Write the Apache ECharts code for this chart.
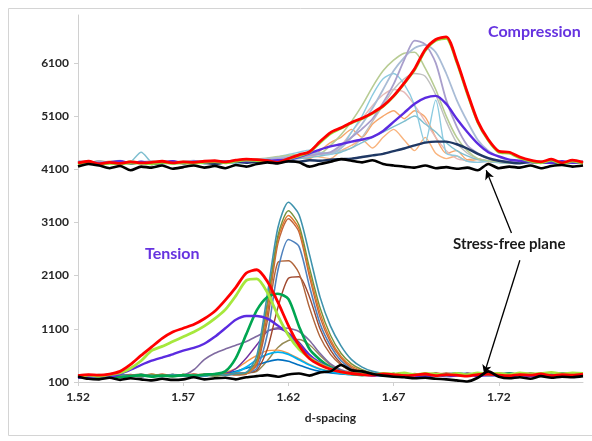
<!DOCTYPE html>
<html><head><meta charset="utf-8">
<script src="https://cdn.jsdelivr.net/npm/echarts@6/dist/echarts.min.js"></script>
<style>html,body{margin:0;padding:0;background:#fff}#c{width:592px;height:441px}</style>
</head><body><div id="c"></div>
<script>
// d-spacing sample positions (1.52 .. 1.76, step 0.005)
const xs = [1.520,1.525,1.530,1.535,1.540,1.545,1.550,1.555,1.560,1.565,1.570,1.575,1.580,1.585,1.590,1.595,1.600,1.605,1.610,1.615,1.620,1.625,1.630,1.635,1.640,1.645,1.650,1.655,1.660,1.665,1.670,1.675,1.680,1.685,1.690,1.695,1.700,1.705,1.710,1.715,1.720,1.725,1.730,1.735,1.740,1.745,1.750,1.755,1.760];
const xTicks = [1.52,1.57,1.62,1.67,1.72];
const yTicks = [100,1100,2100,3100,4100,5100,6100];

// ---- Tension (lower) profiles ----
const lowRed    = [220,240,230,250,300,430,600,760,920,1040, 1110,1180,1290,1430,1640,1880,2150,2210,1990,1600, 1160,790,540,420,340,290,260,240,230,250, 240,220,230,250,220,240,230,210,240,250, 230,220,240,230,250,220,240,230,250];
const lowLime   = [200,230,210,240,270,360,500,690,770,860, 950,1040,1150,1290,1460,1720,2010,2040,1780,1350, 980,720,560,440,350,290,260,250,240,260, 250,270,240,260,250,230,260,240,270,250, 260,240,270,250,260,280,250,270,260];
const lowViolet = [180,200,210,190,250,330,420,500,560,620, 690,740,820,950,1110,1270,1340,1340,1290,1160, 1010,800,600,460,360,300,260,240,220,230, 210,230,220,200,230,210,220,240,210,230, 220,200,230,210,220,240,210,230,220];
const lowGreen  = [190,210,200,220,190,210,230,200,220,210, 230,220,240,250,300,550,1000,1450,1700,1760, 1660,1150,720,520,380,300,250,230,240,220, 250,230,240,220,250,230,260,240,250,230, 240,260,230,250,240,220,250,230,240];
const lowTeal   = [210,230,200,220,240,210,230,220,200,240, 220,230,210,250,230,260,280,600,1750,3000, 3480,3250,2500,1700,1150,780,520,380,300,260, 240,250,230,260,240,250,270,240,260,250, 240,270,250,260,240,250,270,260,250];
const lowOlive  = [200,220,240,210,230,220,200,240,230,210, 240,220,230,210,240,250,270,520,1600,2850, 3320,3050,2250,1500,980,640,440,330,270,250, 230,260,240,250,230,260,240,250,270,240, 260,240,250,230,260,240,270,250,260];
const lowOrange = [220,200,230,240,210,230,220,250,210,230, 220,240,230,250,220,260,260,480,1500,2780, 3230,2980,2150,1400,900,580,400,310,260,240, 250,230,260,240,270,250,240,260,250,270, 240,260,250,240,270,250,260,240,270];
const lowRust   = [230,210,220,200,240,220,230,210,240,220, 230,250,220,240,250,230,250,440,1380,2700, 3170,2920,2080,1320,850,550,370,290,250,260, 240,250,230,260,240,270,250,230,260,240, 250,270,240,260,250,230,260,250,240];
const lowSteel  = [210,230,220,240,200,230,210,240,220,230, 210,240,230,220,250,240,260,360,1000,2200, 2780,2650,1900,1200,780,500,350,280,250,240, 260,240,250,230,260,240,250,270,240,260, 250,230,260,240,250,270,240,260,250];
const lowBrown  = [200,220,210,230,220,200,230,210,220,240, 230,220,240,230,250,260,280,420,1250,2350, 2380,2150,1500,950,620,420,300,260,240,250, 230,250,240,260,230,250,240,260,250,230, 260,240,250,270,240,260,250,240,260];
const lowMaroon = [220,210,230,200,220,240,210,230,220,200, 240,220,230,250,240,260,270,320,720,1500, 2050,2080,1700,1100,700,450,320,270,250,240, 260,230,250,240,260,250,230,260,240,250, 270,240,260,250,240,260,270,250,240];
const lowPlum   = [210,200,220,230,210,220,200,230,240,220, 230,330,520,640,720,790,860,960,1060,1120, 1110,1050,880,640,440,330,280,250,240,250, 230,240,250,230,260,240,250,230,260,240, 250,240,230,260,250,240,260,230,250];
const lowPurple = [190,210,200,220,210,230,200,220,210,230, 220,210,240,230,260,350,550,800,1050,1100, 1020,850,620,450,340,280,250,230,240,220, 250,230,240,260,230,250,240,220,250,240, 230,250,240,220,250,230,240,260,230];
const lowCyan   = [220,200,230,210,240,220,200,230,210,240, 220,230,210,250,240,280,380,520,620,660, 620,520,420,340,290,260,240,250,230,260, 240,250,230,240,260,230,250,240,260,230, 250,240,260,230,250,240,230,260,240];
const lowBlue   = [200,220,210,230,200,220,240,210,230,220, 210,230,220,240,260,300,360,420,480,520, 490,420,350,300,270,250,240,230,250,240, 230,250,240,230,250,240,260,230,250,240, 260,230,250,240,230,250,260,240,250];
const lowTan    = [230,220,210,240,220,230,250,210,230,240, 220,240,230,250,240,260,270,300,500,750, 880,900,800,600,420,320,270,250,240,260, 230,250,240,260,230,250,240,260,240,230, 250,240,260,230,250,240,260,250,240];
const lowPeach  = [210,230,220,200,240,220,230,210,250,220, 240,230,250,240,280,350,480,600,690,700, 640,540,430,350,300,260,250,240,260,230, 250,240,230,260,250,240,230,250,260,240, 230,250,240,260,230,250,240,230,250];
const lowBlack  = [200,160,150,180,140,170,150,130,160,140, 150,190,150,170,180,150,190,210,230,200, 240,260,220,280,300,420,320,300,250,220, 200,190,170,180,160,150,130,110,180,300, 200,170,190,160,210,180,200,190,210];

// ---- Compression (upper) profiles ----
const upRed      = [4220,4250,4200,4230,4210,4240,4220,4230,4250,4220, 4240,4230,4250,4260,4240,4270,4290,4280,4260,4230, 4300,4370,4430,4620,4790,4880,4980,5060,5160,5290, 5480,5720,5990,6350,6540,6590,6140,5550,5000,4660, 4440,4420,4330,4270,4240,4290,4220,4270,4230];
const upLime     = [4200,4230,4190,4210,4200,4220,4210,4200,4230,4210, 4220,4210,4230,4240,4220,4250,4270,4260,4250,4220, 4290,4350,4420,4600,4770,4870,4970,5050,5150,5280, 5470,5710,5970,6330,6520,6560,6110,5520,4980,4640, 4420,4400,4310,4250,4220,4270,4200,4250,4210];
const upLav      = [4230,4210,4250,4220,4240,4200,4230,4250,4220,4240, 4210,4230,4250,4220,4240,4260,4230,4250,4270,4290, 4310,4340,4360,4390,4420,4550,4700,4860,5050,5350, 5700,6150,6520,6450,6100,5400,4900,4550,4400,4300, 4260,4240,4220,4250,4230,4210,4240,4220,4230];
const upBlueGray = [4250,4230,4210,4240,4260,4220,4240,4230,4250,4210, 4240,4260,4230,4250,4220,4240,4260,4280,4300,4320, 4330,4350,4380,4410,4400,4500,4700,4950,5250,5600, 5950,6200,6380,6440,6300,5900,5400,5000,4650,4450, 4330,4270,4240,4220,4250,4230,4240,4220,4250];
const upSage     = [4240,4220,4260,4230,4210,4250,4230,4240,4260,4220, 4250,4230,4240,4260,4230,4250,4270,4290,4310,4340, 4360,4380,4410,4400,4550,4750,5000,5300,5650,5950, 6150,6280,6300,6000,5600,5100,4700,4450,4300,4260, 4240,4220,4250,4230,4240,4260,4220,4240,4230];
const upSky      = [4260,4230,4250,4210,4240,4220,4250,4230,4210,4240, 4230,4250,4220,4240,4260,4230,4250,4280,4300,4330, 4380,4420,4460,4400,4380,4500,4800,5100,5500,5800, 5900,5700,5300,4600,5400,4400,4350,4250,4230,4250, 4220,4240,4210,4230,4250,4220,4240,4230,4210];
const upPink     = [4210,4240,4220,4250,4230,4210,4240,4220,4250,4230, 4220,4240,4260,4230,4250,4240,4260,4270,4300,4320, 4340,4370,4350,4380,4400,4550,4800,5050,5300,5500, 5600,5550,5300,5000,4700,4450,4300,4260,4230,4250, 4230,4210,4240,4220,4250,4230,4210,4240,4220];
const upOrange   = [4230,4250,4220,4240,4210,4260,4230,4220,4240,4250, 4230,4210,4240,4230,4260,4240,4250,4270,4260,4290, 4280,4320,4300,4450,4600,4700,4850,4700,4950,5100, 5200,5050,5200,5080,4700,4400,4450,4280,4300,4250, 4260,4230,4250,4220,4240,4230,4250,4220,4240];
const upApricot  = [4240,4220,4230,4250,4220,4240,4210,4250,4230,4220, 4240,4250,4230,4210,4240,4260,4240,4260,4280,4300, 4320,4300,4350,4330,4300,4450,4550,4650,4500,4700, 4850,4650,4450,4700,4400,4300,4350,4250,4280,4240, 4230,4250,4220,4240,4230,4250,4220,4240,4230];
const upGray     = [4220,4240,4210,4230,4250,4220,4240,4230,4210,4240, 4250,4230,4220,4250,4240,4220,4250,4270,4290,4280, 4310,4330,4360,4390,4420,4450,4500,4700,5000,5300, 5600,5800,5900,5850,5500,5000,4600,4400,4300,4260, 4240,4250,4230,4240,4220,4250,4230,4240,4220];
const upTeal     = [4200,4220,4190,4230,4210,4240,4420,4230,4200,4220, 4210,4230,4200,4240,4220,4210,4230,4250,4240,4260, 4280,4300,4320,4350,4380,4420,4500,4600,4700,4800, 4900,5000,5100,4950,4800,4600,4450,4350,4280,4250, 4230,4210,4240,4220,4250,4230,4210,4240,4220];
const upViolet   = [4220,4240,4210,4230,4250,4220,4240,4210,4230,4250, 4220,4240,4230,4250,4240,4260,4250,4270,4260,4270, 4280,4330,4400,4470,4530,4570,4620,4660,4710,4820, 4990,5160,5330,5440,5480,5330,5050,4800,4580,4420, 4340,4280,4260,4240,4230,4220,4250,4220,4240];
const upNavy     = [4200,4230,4190,4220,4240,4210,4230,4200,4220,4240, 4210,4230,4220,4200,4230,4250,4220,4240,4260,4230, 4250,4240,4270,4260,4280,4290,4300,4330,4360,4390, 4440,4490,4550,4600,4620,4620,4570,4490,4390,4310, 4260,4230,4210,4240,4220,4230,4210,4240,4220];
const upBlack    = [4150,4200,4170,4120,4160,4080,4150,4130,4170,4110, 4140,4170,4130,4160,4120,4180,4150,4200,4230,4210, 4250,4230,4150,4200,4240,4290,4260,4230,4270,4200, 4170,4150,4130,4170,4120,4140,4110,4130,4080,4200, 4120,4150,4130,4170,4120,4160,4180,4150,4170];

const FONT = 'Lato';
function mk(name, arr, color, width, z) {
  return {
    name, type: 'line', data: xs.map((x, i) => [x, arr[i]]),
    showSymbol: false, symbol: 'none', smooth: 0.25, silent: true, z: z || 2,
    lineStyle: { color, width }, itemStyle: { color }
  };
}
const series = [
  // upper thin
  mk('upApricot', upApricot, '#f9b47e', 1.4),
  mk('upOrange', upOrange, '#f7a66a', 1.4),
  mk('upPink', upPink, '#e6b9b8', 1.4),
  mk('upGray', upGray, '#bfbfbf', 1.4),
  mk('upTeal', upTeal, '#7fbfd0', 1.4),
  mk('upSky', upSky, '#8ccbe0', 1.4),
  mk('upSage', upSage, '#b8cc94', 1.6),
  mk('upBlueGray', upBlueGray, '#a9bcd6', 1.8),
  mk('upLav', upLav, '#a99fcc', 1.8),
  // lower thin
  mk('lowTan', lowTan, '#948a54', 1.4),
  mk('lowPeach', lowPeach, '#f79646', 1.4),
  mk('lowBlue', lowBlue, '#0070c0', 1.6),
  mk('lowCyan', lowCyan, '#00b0f0', 1.8),
  mk('lowPurple', lowPurple, '#7030a0', 1.4),
  mk('lowPlum', lowPlum, '#7f6aa0', 1.6),
  mk('lowMaroon', lowMaroon, '#a0482e', 1.4),
  mk('lowBrown', lowBrown, '#b0643a', 1.4),
  mk('lowSteel', lowSteel, '#4f81bd', 1.6),
  mk('lowRust', lowRust, '#c0653a', 1.4),
  mk('lowOrange', lowOrange, '#e0782a', 1.4),
  mk('lowOlive', lowOlive, '#76923c', 1.4),
  mk('lowTeal', lowTeal, '#3f93ad', 1.6),
  // thick
  mk('upNavy', upNavy, '#1f3864', 2.4, 3),
  mk('upViolet', upViolet, '#5b2be0', 2.4, 3),
  mk('lowGreen', lowGreen, '#00a651', 2.6, 3),
  mk('lowViolet', lowViolet, '#5b2be0', 2.4, 3),
  mk('upLime', upLime, '#92e03a', 2.6, 3),
  mk('lowLime', lowLime, '#a6e83c', 2.8, 3),
  mk('upRed', upRed, '#ff0000', 2.8, 4),
  mk('lowRed', lowRed, '#ff0000', 2.8, 4),
  mk('lowBlack', lowBlack, '#000000', 2.6, 5),
  mk('upBlack', upBlack, '#000000', 2.6, 5)
];
// annotation arrows (data coordinates)
series[series.length - 1].markLine = {
  silent: true, symbol: ['none', 'arrow'], symbolSize: [7, 9],
  label: { show: false },
  lineStyle: { color: '#000', width: 1.3, type: 'solid' },
  data: [
    [{ coord: [1.726, 2900] }, { coord: [1.714, 4080] }],
    [{ coord: [1.730, 2390] }, { coord: [1.713, 250] }]
  ]
};

const chart = echarts.init(document.getElementById('c'), null, { renderer: 'canvas' });
chart.setOption({
  animation: false,
  backgroundColor: '#ffffff',
  grid: { left: 78, right: 9, top: 15, bottom: 59 },
  xAxis: {
    type: 'value', min: 1.52, max: 1.76,
    name: 'd-spacing', nameLocation: 'middle', nameGap: 30,
    nameTextStyle: { fontFamily: FONT, fontWeight: 'bold', fontSize: 12, color: '#262626' },
    axisLine: { show: true, lineStyle: { color: '#d0d0d0', width: 1 } },
    axisTick: { show: true, length: 4, lineStyle: { color: '#d0d0d0' }, customValues: xTicks },
    splitLine: { show: false },
    axisLabel: { customValues: xTicks, margin: 9, fontFamily: FONT, fontWeight: 'bold', fontSize: 12, color: '#262626',
      formatter: v => Number(v).toFixed(2) }
  },
  yAxis: {
    type: 'value', min: 100, max: 7000,
    axisLine: { show: true, lineStyle: { color: '#d0d0d0', width: 1 } },
    axisTick: { show: true, length: 4, lineStyle: { color: '#d0d0d0' }, customValues: yTicks },
    splitLine: { show: false },
    axisLabel: { customValues: yTicks, margin: 9, fontFamily: FONT, fontWeight: 'bold', fontSize: 12, color: '#262626',
      formatter: v => String(Math.round(v)) }
  },
  graphic: [
    { type: 'rect', shape: { x: 8.5, y: 8.5, width: 600, height: 427 }, style: { fill: 'none', stroke: '#d4d4d4', lineWidth: 1 }, silent: true, z: -1 },
    { type: 'text', left: 488, top: 24, style: { text: 'Compression', fill: '#6633e0', font: 'bold 16px ' + FONT } },
    { type: 'text', left: 145, top: 246, style: { text: 'Tension', fill: '#6633e0', font: 'bold 16px ' + FONT } },
    { type: 'text', left: 453, top: 237, style: { text: 'Stress-free plane', fill: '#1a1a1a', font: 'bold 15px ' + FONT } }
  ],
  series
});
</script>
</body></html>
